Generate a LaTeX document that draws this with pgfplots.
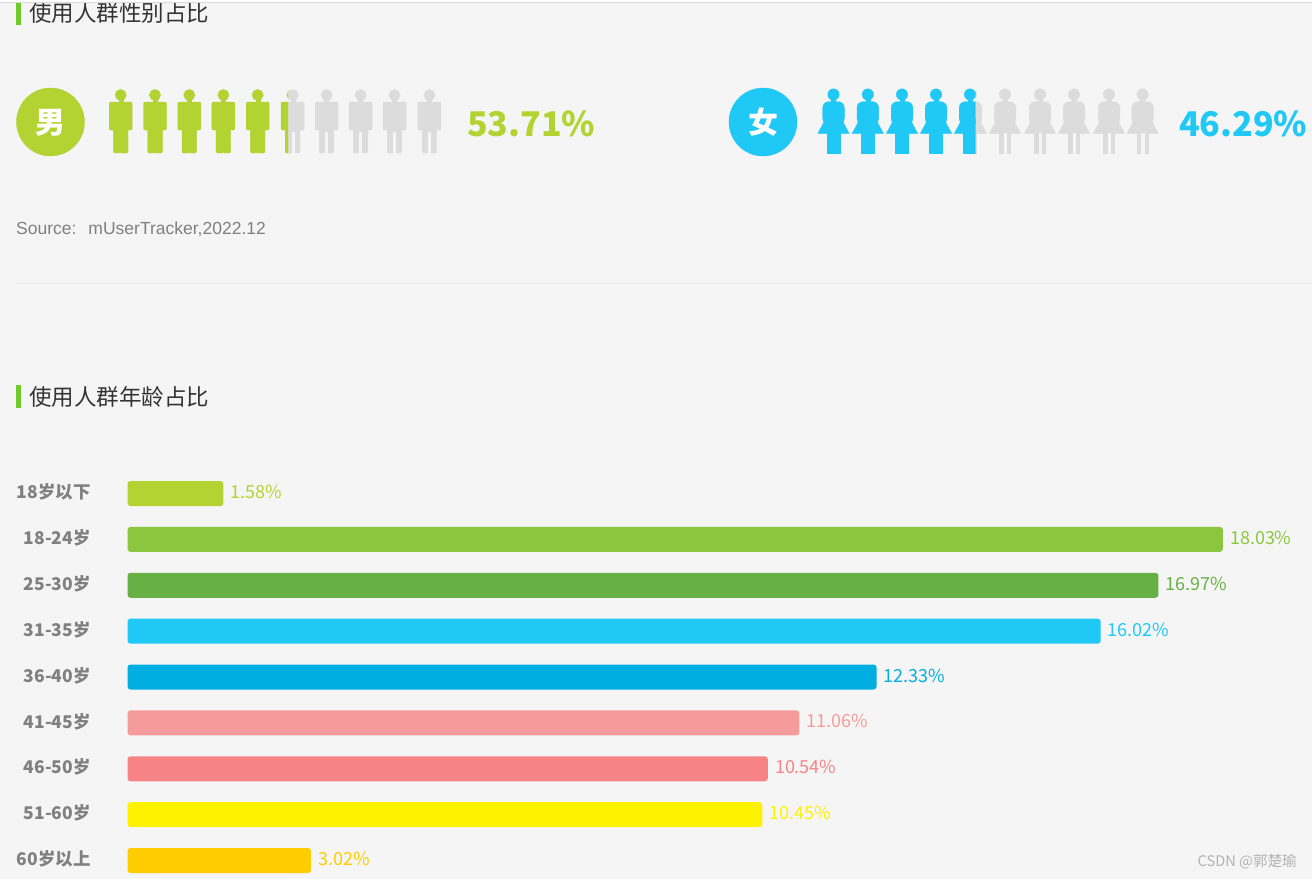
\documentclass[border=0pt]{standalone}
\usepackage{fontspec}
\setmainfont{Noto Sans CJK SC}
\newfontfamily\arialf{Liberation Sans}
\usepackage{pgfplots}
\pgfplotsset{compat=1.18}
\definecolor{bgc}{HTML}{F5F5F5}
\definecolor{cA}{HTML}{B3D332}
\definecolor{cB}{HTML}{8CC63E}
\definecolor{cC}{HTML}{67B045}
\definecolor{cD}{HTML}{1FC8F5}
\definecolor{cE}{HTML}{00AEE1}
\definecolor{cF}{HTML}{F69B9B}
\definecolor{cG}{HTML}{F68486}
\definecolor{cH}{HTML}{FFF200}
\definecolor{cI}{HTML}{FFCC00}
\definecolor{iconG}{HTML}{DCDCDC}
\definecolor{acc}{HTML}{6ECB2A}
% pictogram shapes, in px around the mark position
\newcommand\manshape[2]{% colour, leg gap half width
  \begin{scope}[x=1pt,y=1pt]
  \fill[#1] (0,27) circle (5.6pt);
  \fill[#1] (-2,20) rectangle (2,23);
  \fill[#1,rounded corners=1.2pt] (-11.5,-8) rectangle (11.5,20);
  \fill[#1,rounded corners=1.2pt] (-7.3,-6) -- (-7.3,-31) -- (-#2,-31) -- (-#2,-30) -- (#2,-30) -- (#2,-31) -- (7.3,-31) -- (7.3,-6) -- cycle;
  \end{scope}}
\newcommand\cliprect[2]{\pgfpathrectanglecorners{\pgfpoint{#1}{-40pt}}{\pgfpoint{#2}{40pt}}\pgfusepath{clip}}
\pgfdeclareplotmark{manA}{\manshape{cA}{1.2}}
\pgfdeclareplotmark{manGrey}{\manshape{iconG}{1.0}\begin{scope}[x=1pt,y=1pt]\fill[bgc] (-1,-10) rectangle (1,-32);\end{scope}}
\pgfdeclareplotmark{manAhalf}{\begin{pgfscope}\cliprect{-14pt}{-4pt}\manshape{cA}{1.2}\end{pgfscope}}
\pgfdeclareplotmark{manGhalf}{\begin{pgfscope}\cliprect{-4.4pt}{14pt}\manshape{iconG}{1.0}\begin{scope}[x=1pt,y=1pt]\fill[bgc] (-1,-10) rectangle (1,-32);\end{scope}\end{pgfscope}}
\newcommand\womanshape[2]{% colour, leg half width
  \begin{scope}[x=1pt,y=1pt]
  \fill[#1] (0,27.5) circle (5.7pt);
  \fill[#1] (-2,19) rectangle (2,23);
  \fill[#1,rounded corners=6pt] (-10.8,-2) -- (-10.8,20.3) -- (10.8,20.3) -- (10.8,-2) -- cycle;
  \fill[#1] (-10,3) -- (-10,-1) -- (-15.6,-11.4) -- (15.6,-11.4) -- (10,-1) -- (10,3) -- cycle;
  \fill[#1] (-#2,-11) rectangle (#2,-31);
  \end{scope}}
\pgfdeclareplotmark{womanD}{\womanshape{cD}{6.4}}
\pgfdeclareplotmark{womanGrey}{\womanshape{iconG}{5.6}\begin{scope}[x=1pt,y=1pt]\fill[bgc] (-1.3,-11.4) rectangle (1.3,-32);\end{scope}}
\pgfdeclareplotmark{womanDhalf}{\begin{pgfscope}\cliprect{-18pt}{5.5pt}\womanshape{cD}{6.4}\end{pgfscope}}
\pgfdeclareplotmark{womanGhalf}{\begin{pgfscope}\cliprect{4.5pt}{18pt}\womanshape{iconG}{5.6}\end{pgfscope}}
\pgfplotsset{panel/.style={
  at={(0,0)}, anchor=south west, scale only axis, width=1312pt, height=879pt,
  xmin=0, xmax=1312, ymin=0, ymax=879, y dir=reverse,
  xtick=\empty, ytick=\empty, axis line style={draw=none}, clip=false}}
\begin{document}
\begin{tikzpicture}
\useasboundingbox (0,0) rectangle (1312pt,879pt);
% ---- pixel-coordinate panel: pictograms
\begin{axis}[panel, axis background/.style={fill=bgc}]
\addplot[only marks, mark=*, mark size=34pt, mark options={draw=cA,fill=cA}] coordinates {(50.5,122)};
\addplot[only marks, mark=*, mark size=34pt, mark options={draw=cD,fill=cD}] coordinates {(763,122)};
\addplot[only marks, mark=manA] coordinates {(120.7,122) (155,122) (189.3,122) (223.4,122) (257.7,122)};
\addplot[only marks, mark=manAhalf] coordinates {(292.5,122)};
\addplot[only marks, mark=manGhalf] coordinates {(292.7,122)};
\addplot[only marks, mark=manGrey] coordinates {(326.6,122) (360.6,122) (394.6,122) (429.4,122)};
\addplot[only marks, mark=womanGhalf] coordinates {(971,122)};
\addplot[only marks, mark=womanGrey] coordinates {(1005,122) (1040,122) (1074,122) (1109,122) (1142.6,122)};
\addplot[only marks, mark=womanD] coordinates {(833.5,122) (867.8,122) (902,122) (936,122)};
\addplot[only marks, mark=womanDhalf] coordinates {(970,122)};
\end{axis}
% ---- pixel-coordinate panel: texts and rules
\begin{axis}[panel]
\node[text=white,font=\bfseries\fontsize{30}{30}\selectfont,inner sep=0] at (axis cs:50.5,122.5) {男};
\node[text=white,font=\bfseries\fontsize{30}{30}\selectfont,inner sep=0] at (axis cs:763,122.5) {女};
\node[text=cA,font=\bfseries\fontsize{34}{34}\selectfont,inner sep=0,anchor=west] at (axis cs:467,123.5) {53.71\%};
\node[text=cD,font=\bfseries\fontsize{34}{34}\selectfont,inner sep=0,anchor=west] at (axis cs:1179,123.5) {46.29\%};
\fill[acc] (axis cs:16,2) rectangle (axis cs:21,25);
\fill[acc] (axis cs:16,385) rectangle (axis cs:21,408);
\node[text=black!80,font=\fontsize{22.5}{22.5}\selectfont,inner sep=0,anchor=west] at (axis cs:29,13) {使用人群性别占比};
\node[text=black!80,font=\fontsize{22.5}{22.5}\selectfont,inner sep=0,anchor=west] at (axis cs:29,397) {使用人群年龄占比};
\node[text=black!50,font=\arialf\fontsize{17.5}{17.5}\selectfont,inner sep=0,anchor=west] at (axis cs:16,229) {Source:\hspace{12pt}mUserTracker,2022.12};
\draw[black!8,line width=1pt] (axis cs:16,283.5) -- (axis cs:1312,283.5);
\node[text=black!30,font=\fontsize{14.6}{14.6}\selectfont,inner sep=0,anchor=east] at (axis cs:1297,862) {CSDN @郭楚瑜};
\fill[white] (axis cs:0,0) rectangle (axis cs:1312,2);
\draw[black!15,line width=1pt] (axis cs:0,2) -- (axis cs:1312,2);
\end{axis}
% ---- bars: x in percent, y in category index
\begin{axis}[
  at={(0,0)}, anchor=south west, scale only axis, width=1312pt, height=879pt,
  xmin=-2.0988, xmax=19.498, ymin=-10.757, ymax=8.403, y dir=reverse,
  xtick=\empty, ytick={0,1,2,3,4,5,6,7,8},
  yticklabels={18岁以下,18-24岁,25-30岁,31-35岁,36-40岁,41-45岁,46-50岁,51-60岁,60岁以上},
  y tick label style={anchor=east,xshift=91pt,yshift=1.5pt,inner sep=0,text=black!50,font=\bfseries\fontsize{17.5}{17.5}\selectfont},
  major tick length=0pt, axis line style={draw=none}, clip=false,
  /pgf/number format/.cd, fixed, precision=2, zerofill, assume math mode=true,
  /pgfplots/.cd,
  barstyle/.style={xbar, bar shift=0pt, bar width=25pt, draw=none, fill=#1, rounded corners=3pt,
    point meta=x, nodes near coords={\pgfmathprintnumber\pgfplotspointmeta\%},
    every node near coord/.style={anchor=west,text=#1,inner sep=0,xshift=7pt,yshift=1.5pt,rounded corners=0pt,font=\fontsize{18}{18}\selectfont}}]
\addplot[barstyle=cA] coordinates {(1.58,0)};
\addplot[barstyle=cB] coordinates {(18.03,1)};
\addplot[barstyle=cC] coordinates {(16.97,2)};
\addplot[barstyle=cD] coordinates {(16.02,3)};
\addplot[barstyle=cE] coordinates {(12.33,4)};
\addplot[barstyle=cF] coordinates {(11.06,5)};
\addplot[barstyle=cG] coordinates {(10.54,6)};
\addplot[barstyle=cH] coordinates {(10.45,7)};
\addplot[barstyle=cI] coordinates {(3.02,8)};
\end{axis}
\end{tikzpicture}
\end{document}
